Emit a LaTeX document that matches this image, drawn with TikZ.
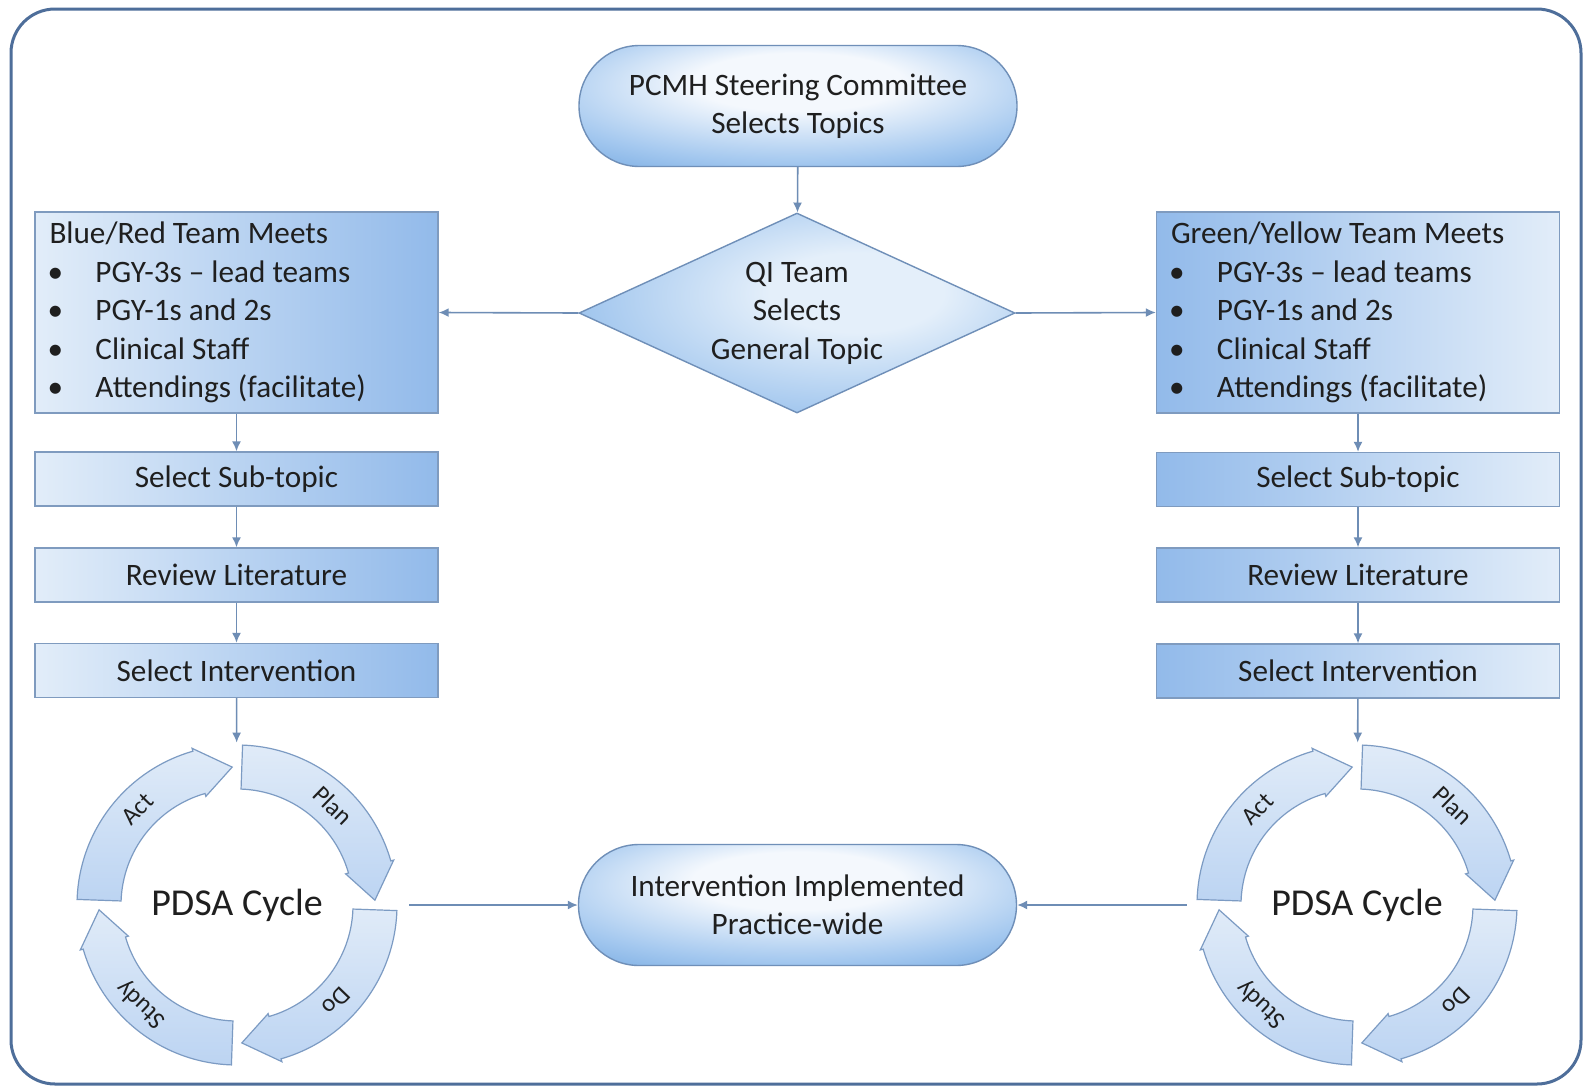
\documentclass[tikz,border=0pt]{standalone}
\usepackage{fontspec}
\setmainfont{Carlito}
\usetikzlibrary{shapes.geometric,shapes.misc,arrows.meta}
\definecolor{textc}{HTML}{1F1F1F}
\definecolor{bordc}{HTML}{7F9BBF}
\definecolor{termbord}{HTML}{6F8FB8}
\definecolor{connc}{HTML}{6E8DB5}
\definecolor{framec}{HTML}{4E6E9A}
\definecolor{lite}{HTML}{E2EDF9}
\definecolor{darkb}{HTML}{92BAEA}
\definecolor{termin}{HTML}{F4F8FD}
\definecolor{termmid}{HTML}{A4C8EF}
\definecolor{termout}{HTML}{6AA2DE}
\definecolor{diain}{HTML}{E4EFFA}
\definecolor{diamid}{HTML}{A6C9EF}
\definecolor{diaout}{HTML}{6EA4DF}
\definecolor{segl}{HTML}{E0EBF8}
\definecolor{segd}{HTML}{BCD4F2}
\definecolor{segb}{HTML}{7C9BC3}
\pgfdeclareradialshading{termshade}{\pgfpoint{0bp}{12bp}}{color(0bp)=(termin); color(12bp)=(termin); color(30bp)=(termmid); color(44bp)=(termout); color(70bp)=(termout)}
\pgfdeclareradialshading{diashade}{\pgfpoint{8bp}{6bp}}{color(0bp)=(diain); color(10bp)=(diain); color(28bp)=(diamid); color(45bp)=(diaout); color(70bp)=(diaout)}
\newcommand{\pdsaseg}[2]{%
  \pgfmathsetmacro{\pdsS}{#1}%
  \pgfmathsetmacro{\pdsT}{#1-86}%
  \pgfmathsetmacro{\pdsH}{#1-72}%
  \pgfmathsetmacro{\pdsL}{#1-42}%
  \pgfmathsetmacro{\pdsR}{#1-132}%
  \draw[segstyle] (\pdsS:160) arc[start angle=\pdsS, end angle=\pdsH, radius=160]
    -- (\pdsH:163) -- (\pdsT:138) -- (\pdsH:113) -- (\pdsH:116)
    arc[start angle=\pdsH, end angle=\pdsS, radius=116] -- cycle;
  \node[seglabel, rotate=\pdsR] at (\pdsL:138) {#2};
}
\begin{document}
\begin{tikzpicture}[x=0.5pt,y=-0.5pt,
  every node/.style={font=\fontsize{15.6}{19.2}\selectfont, text=textc},
  boxL/.style={draw=bordc, line width=0.7pt, left color=lite, right color=darkb, minimum width=201.5pt, minimum height=27pt, inner sep=0pt},
  boxR/.style={boxL, left color=darkb, right color=lite},
  bigbox/.style={minimum height=100.5pt, text width=187pt, align=flush left, inner xsep=7pt},
  term/.style={rounded rectangle, draw=termbord, line width=0.7pt, shading=termshade, minimum width=219pt, minimum height=60.5pt, align=center, inner sep=0pt},
  deci/.style={diamond, draw=termbord, line width=0.7pt, shading=diashade, aspect=2.18, minimum width=218pt, minimum height=100pt, inner sep=0pt, align=center},
  conn/.style={draw=connc, line width=0.8pt, -{Latex[length=5pt,width=4.5pt]}},
  segstyle/.style={draw=segb, line width=0.6pt, top color=segl, bottom color=segd},
  seglabel/.style={font=\fontsize{12.5}{15}\selectfont},
  cyc/.style={circle, minimum size=162pt, inner sep=0pt, font=\fontsize{19}{23}\selectfont}
]
\useasboundingbox (0,0) rectangle (1587,1088);
\fill[white] (0,0) rectangle (1587,1088);
\draw[framec, line width=1.5pt, rounded corners=22pt] (11,9) rectangle (1581,1084);

% top
\node[term] (steer) at (798,106) {PCMH Steering Committee\\Selects Topics};
\node[deci] (qi) at (797,313) {QI Team\\Selects\\General Topic};

% left column
\node[boxL, bigbox] (lbig) at (236.5,312.5) {Blue/Red Team Meets\\
\hspace*{-1pt}\makebox[24pt][l]{•}PGY-3s – lead teams\\
\hspace*{-1pt}\makebox[24pt][l]{•}PGY-1s and 2s\\
\hspace*{-1pt}\makebox[24pt][l]{•}Clinical Staff\\
\hspace*{-1pt}\makebox[24pt][l]{•}Attendings (facilitate)};
\node[boxL] (lsub) at (236.5,479) {Select Sub-topic};
\node[boxL] (lrev) at (236.5,575) {Review Literature};
\node[boxL] (lint) at (236.5,670.5) {Select Intervention};

% right column
\node[boxR, bigbox] (rbig) at (1358,312.5) {Green/Yellow Team Meets\\
\hspace*{-1pt}\makebox[24pt][l]{•}PGY-3s – lead teams\\
\hspace*{-1pt}\makebox[24pt][l]{•}PGY-1s and 2s\\
\hspace*{-1pt}\makebox[24pt][l]{•}Clinical Staff\\
\hspace*{-1pt}\makebox[24pt][l]{•}Attendings (facilitate)};
\node[boxR] (rsub) at (1358,479.5) {Select Sub-topic};
\node[boxR] (rrev) at (1358,575) {Review Literature};
\node[boxR] (rint) at (1358,671) {Select Intervention};

% bottom
\node[term] (impl) at (797.5,905) {Intervention Implemented\\Practice-wide};

% PDSA cycles
\begin{scope}[shift={(237,905)}, yscale=-1]
  \pdsaseg{88}{Plan}
  \pdsaseg{-2}{Do}
  \pdsaseg{-92}{Study}
  \pdsaseg{178}{Act}
\end{scope}
\node[cyc] (pdsaL) at (237,905) {PDSA Cycle};

\begin{scope}[shift={(1357,905)}, yscale=-1]
  \pdsaseg{88}{Plan}
  \pdsaseg{-2}{Do}
  \pdsaseg{-92}{Study}
  \pdsaseg{178}{Act}
\end{scope}
\node[cyc] (pdsaR) at (1357,905) {PDSA Cycle};

% connectors
\draw[conn] (steer) -- (qi);
\draw[conn] (qi.west) -- (lbig.east);
\draw[conn] (qi.east) -- (rbig.west);
\draw[conn] (lbig) -- (lsub);
\draw[conn] (lsub) -- (lrev);
\draw[conn] (lrev) -- (lint);
\draw[conn] (lint) -- (pdsaL);
\draw[conn] (rbig) -- (rsub);
\draw[conn] (rsub) -- (rrev);
\draw[conn] (rrev) -- (rint);
\draw[conn] (rint) -- (pdsaR);
\draw[conn] ([xshift=5pt]pdsaL.east) -- (impl.west);
\draw[conn] ([xshift=-4pt]pdsaR.west) -- (impl.east);
\end{tikzpicture}
\end{document}
